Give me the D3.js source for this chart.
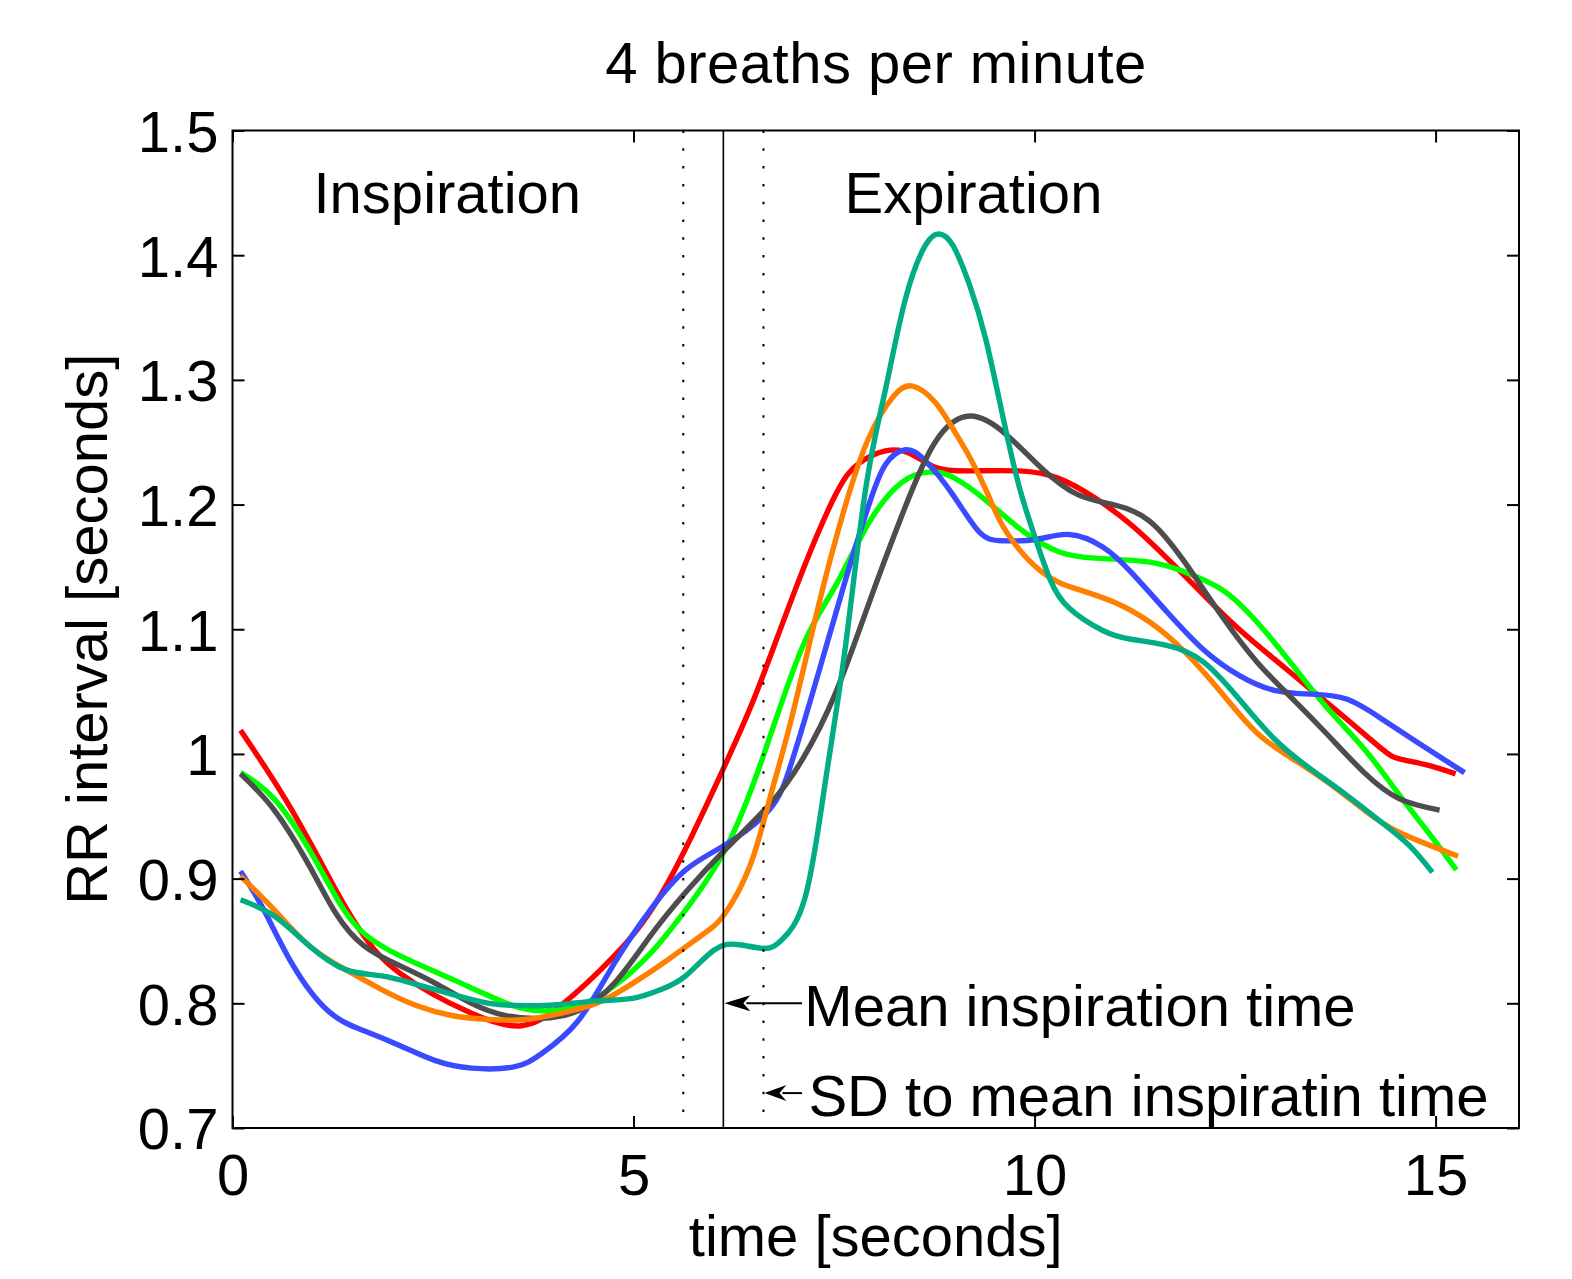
<!DOCTYPE html>
<html>
<head>
<meta charset="utf-8">
<script src="https://cdn.jsdelivr.net/npm/d3@7"></script>
<style>
  body { margin: 0; background: #fff; }
  svg text { font-family: "Liberation Sans", Arial, Helvetica, sans-serif; fill: #000; }
</style>
</head>
<body>
<div id="chart"></div>
<script>
// tick values and labels
const xTicks = [0, 5, 10, 15];
const yTicks = [0.7, 0.8, 0.9, 1.0, 1.1, 1.2, 1.3, 1.4, 1.5];
const yTickLabels = ['0.7', '0.8', '0.9', '1', '1.1', '1.2', '1.3', '1.4', '1.5'];

// breathing markers (seconds)
const meanInspiration = 6.12;
const sdInspiration = 0.5;

// series: time [s] and RR interval [s]
const redT = [0.1, 0.74, 1.33, 1.64, 2.09, 2.98, 3.6, 4.09, 4.76, 5.43, 6.14, 6.55, 7.06, 7.52, 7.81, 8.14, 8.45, 8.76, 9.19, 9.81, 10.3, 10.76, 11.2, 11.65, 12.1, 12.55, 12.99, 13.44, 13.89, 14.33, 14.55, 14.9, 15.25];
const redV = [1.019, 0.955, 0.886, 0.854, 0.824, 0.792, 0.782, 0.798, 0.838, 0.897, 0.991, 1.052, 1.139, 1.208, 1.233, 1.243, 1.241, 1.230, 1.227, 1.227, 1.221, 1.205, 1.184, 1.157, 1.128, 1.100, 1.076, 1.052, 1.028, 1.004, 0.996, 0.991, 0.984];

const greenT = [0.1, 0.52, 0.96, 1.33, 1.64, 2.09, 2.75, 3.42, 3.86, 4.31, 4.76, 5.21, 5.65, 6.14, 6.6, 7.1, 7.52, 7.93, 8.35, 8.68, 8.98, 9.42, 9.87, 10.31, 10.76, 11.42, 11.87, 12.33, 12.77, 13.22, 13.66, 14.11, 14.55, 14.91, 15.26];
const greenV = [0.985, 0.964, 0.923, 0.881, 0.856, 0.838, 0.819, 0.800, 0.794, 0.798, 0.814, 0.840, 0.875, 0.923, 0.995, 1.085, 1.135, 1.185, 1.218, 1.226, 1.222, 1.202, 1.178, 1.162, 1.157, 1.154, 1.146, 1.132, 1.106, 1.071, 1.036, 1.004, 0.967, 0.937, 0.907];

const blueT = [0.1, 0.39, 0.74, 1.19, 1.64, 2.09, 2.53, 2.98, 3.51, 3.86, 4.31, 4.76, 5.21, 5.65, 6.14, 6.69, 6.98, 7.31, 7.64, 7.93, 8.14, 8.39, 8.64, 8.98, 9.31, 9.6, 10.02, 10.43, 10.85, 11.2, 11.65, 12.1, 12.55, 12.99, 13.44, 13.89, 14.33, 14.78, 15.36];
const blueV = [0.906, 0.875, 0.832, 0.794, 0.778, 0.766, 0.754, 0.748, 0.749, 0.760, 0.786, 0.832, 0.875, 0.907, 0.927, 0.955, 0.995, 1.066, 1.139, 1.199, 1.232, 1.244, 1.235, 1.208, 1.178, 1.171, 1.172, 1.176, 1.166, 1.146, 1.114, 1.084, 1.063, 1.051, 1.048, 1.044, 1.028, 1.009, 0.985];

const grayT = [0.1, 0.52, 0.96, 1.28, 1.64, 2.09, 2.53, 2.98, 3.42, 3.86, 4.31, 4.76, 5.21, 5.65, 6.14, 6.69, 7.1, 7.52, 7.93, 8.35, 8.76, 9.2, 9.65, 10.09, 10.54, 10.98, 11.43, 11.87, 12.33, 12.77, 13.22, 13.66, 14.11, 14.55, 15.05];
const grayV = [0.984, 0.955, 0.910, 0.873, 0.846, 0.830, 0.816, 0.800, 0.790, 0.788, 0.794, 0.816, 0.854, 0.889, 0.923, 0.959, 0.995, 1.049, 1.120, 1.192, 1.250, 1.271, 1.256, 1.229, 1.208, 1.200, 1.187, 1.154, 1.111, 1.074, 1.044, 1.015, 0.985, 0.964, 0.955];

const orangeT = [0.1, 0.52, 0.96, 1.41, 1.86, 2.3, 2.75, 3.2, 3.65, 4.09, 4.54, 4.99, 5.43, 5.88, 6.14, 6.45, 6.69, 6.98, 7.31, 7.64, 7.93, 8.23, 8.48, 8.76, 8.98, 9.2, 9.42, 9.65, 10.09, 10.54, 10.98, 11.43, 11.87, 12.33, 12.77, 13.22, 13.66, 14.11, 14.55, 15.28];
const orangeV = [0.902, 0.875, 0.846, 0.827, 0.811, 0.798, 0.790, 0.787, 0.787, 0.792, 0.800, 0.816, 0.835, 0.856, 0.872, 0.910, 0.962, 1.031, 1.120, 1.199, 1.253, 1.286, 1.295, 1.282, 1.261, 1.237, 1.208, 1.178, 1.146, 1.132, 1.122, 1.106, 1.082, 1.049, 1.017, 0.996, 0.977, 0.955, 0.937, 0.918];

const tealT = [0.1, 0.52, 0.96, 1.41, 1.86, 2.3, 2.75, 3.2, 3.65, 4.09, 4.54, 4.99, 5.34, 5.65, 6.01, 6.32, 6.64, 6.85, 7.14, 7.39, 7.64, 7.89, 8.14, 8.39, 8.64, 8.81, 8.98, 9.19, 9.39, 9.6, 9.81, 10.02, 10.2, 10.43, 10.85, 11.2, 11.65, 12.1, 12.55, 12.99, 13.44, 13.89, 14.33, 14.68, 14.96];
const tealV = [0.883, 0.870, 0.846, 0.827, 0.822, 0.815, 0.807, 0.800, 0.798, 0.799, 0.802, 0.804, 0.811, 0.822, 0.843, 0.847, 0.844, 0.851, 0.885, 0.977, 1.085, 1.211, 1.292, 1.365, 1.408, 1.417, 1.408, 1.376, 1.333, 1.272, 1.214, 1.171, 1.139, 1.117, 1.099, 1.092, 1.087, 1.074, 1.044, 1.012, 0.988, 0.967, 0.945, 0.926, 0.905];

const series = [
  { t: redT, v: redV, color: '#ff0000' },
  { t: greenT, v: greenV, color: '#00ff00' },
  { t: blueT, v: blueV, color: '#3a4bff' },
  { t: grayT, v: grayV, color: '#4d4d4d' },
  { t: orangeT, v: orangeV, color: '#ff8000' },
  { t: tealT, v: tealV, color: '#00ad84' }
];

const config = {
  width: 1572,
  height: 1279,
  padding: { left: 232.5, top: 130.5, right: 53, bottom: 151 },
  fontSize: 58
};

const W = config.width, H = config.height, P = config.padding;
const x = d3.scaleLinear().domain([0, 16.04]).range([P.left, W - P.right]);
const y = d3.scaleLinear().domain([0.7, 1.5]).range([H - P.bottom, P.top]);

const svg = d3.select('#chart').append('svg')
  .attr('width', W)
  .attr('height', H);

// the curves
const line = d3.line()
  .x(d => x(d[0]))
  .y(d => y(d[1]))
  .curve(d3.curveNatural);

svg.append('g')
  .selectAll('path')
  .data(series)
  .join('path')
  .attr('d', s => line(s.t.map((t, i) => [t, s.v[i]])))
  .attr('fill', 'none')
  .attr('stroke', s => s.color)
  .attr('stroke-width', 5.4)
  .attr('stroke-linejoin', 'round');

// inspiration markers
const markers = [
  { t: meanInspiration - sdInspiration, dash: '2.5 15.3', w: 2 },
  { t: meanInspiration, dash: null, w: 1.6 },
  { t: meanInspiration + sdInspiration, dash: '2.5 15.3', w: 2 }
];
svg.append('g')
  .selectAll('line')
  .data(markers)
  .join('line')
  .attr('x1', d => x(d.t)).attr('x2', d => x(d.t))
  .attr('y1', y(1.5)).attr('y2', y(0.7))
  .attr('stroke', '#000')
  .attr('stroke-width', d => d.w)
  .attr('stroke-dasharray', d => d.dash);

// axes, ticks pointing inwards
const fmtY = v => yTickLabels[yTicks.indexOf(v)];
const axLeft = svg.append('g').attr('transform', `translate(${P.left},0)`)
  .call(d3.axisLeft(y).tickValues(yTicks).tickFormat(fmtY).tickSizeInner(-12).tickSizeOuter(0).tickPadding(14));
const axRight = svg.append('g').attr('transform', `translate(${W - P.right},0)`)
  .call(d3.axisRight(y).tickValues(yTicks).tickFormat('').tickSizeInner(-12).tickSizeOuter(0));
const axBottom = svg.append('g').attr('transform', `translate(0,${H - P.bottom})`)
  .call(d3.axisBottom(x).tickValues(xTicks).tickFormat(d3.format('d')).tickSizeInner(-12).tickSizeOuter(0).tickPadding(26));
const axTop = svg.append('g').attr('transform', `translate(0,${P.top})`)
  .call(d3.axisTop(x).tickValues(xTicks).tickFormat('').tickSizeInner(-12).tickSizeOuter(0));

[axLeft, axRight, axBottom, axTop].forEach(g => {
  g.select('.domain').remove();
  g.selectAll('.tick line').attr('stroke', '#000').attr('stroke-width', 2);
  g.selectAll('.tick text')
    .attr('font-size', config.fontSize)
    .attr('font-family', '"Liberation Sans", Arial, Helvetica, sans-serif')
    .attr('fill', '#000');
});
axLeft.selectAll('.tick text').attr('dy', '0.36em');

svg.append('rect')
  .attr('x', P.left).attr('y', P.top)
  .attr('width', W - P.right - P.left)
  .attr('height', H - P.bottom - P.top)
  .attr('fill', 'none')
  .attr('stroke', '#000')
  .attr('stroke-width', 2);

// titles
svg.append('text')
  .attr('x', (P.left + W - P.right) / 2).attr('y', 83)
  .attr('text-anchor', 'middle')
  .attr('font-size', config.fontSize)
  .attr('textLength', 541)
  .text('4 breaths per minute');

svg.append('text')
  .attr('x', (P.left + W - P.right) / 2).attr('y', 1256)
  .attr('text-anchor', 'middle')
  .attr('font-size', config.fontSize)
  .text('time [seconds]');

svg.append('text')
  .attr('transform', `translate(107,${(P.top + H - P.bottom) / 2}) rotate(-90)`)
  .attr('text-anchor', 'middle')
  .attr('font-size', config.fontSize)
  .text('RR interval [seconds]');

svg.append('text')
  .attr('x', x(1.01)).attr('y', 213)
  .attr('font-size', config.fontSize)
  .text('Inspiration');

svg.append('text')
  .attr('x', x(7.63)).attr('y', 213)
  .attr('font-size', config.fontSize)
  .text('Expiration');

// arrows with notes
const notes = [
  { tip: meanInspiration, v: 0.8, tail: 7.1, head: 26, text: 'Mean inspiration time', tx: 7.13 },
  { tip: meanInspiration + sdInspiration, v: 0.728, tail: 7.1, head: 22, text: 'SD to mean inspiratin time', tx: 7.18 }
];
notes.forEach(n => {
  const x0 = x(n.tip) + 1, x1 = x(n.tail), yy = y(n.v);
  svg.append('line')
    .attr('x1', x0 + n.head - 4).attr('x2', x1)
    .attr('y1', yy).attr('y2', yy)
    .attr('stroke', '#000').attr('stroke-width', 2);
  svg.append('path')
    .attr('d', `M${x0},${yy} L${x0 + n.head},${yy - 8} L${x0 + n.head - 7},${yy} L${x0 + n.head},${yy + 8} Z`)
    .attr('fill', '#000');
  svg.append('text')
    .attr('x', x(n.tx)).attr('y', yy)
    .attr('dy', '0.39em')
    .attr('font-size', config.fontSize)
    .text(n.text);
});
</script>
</body>
</html>
